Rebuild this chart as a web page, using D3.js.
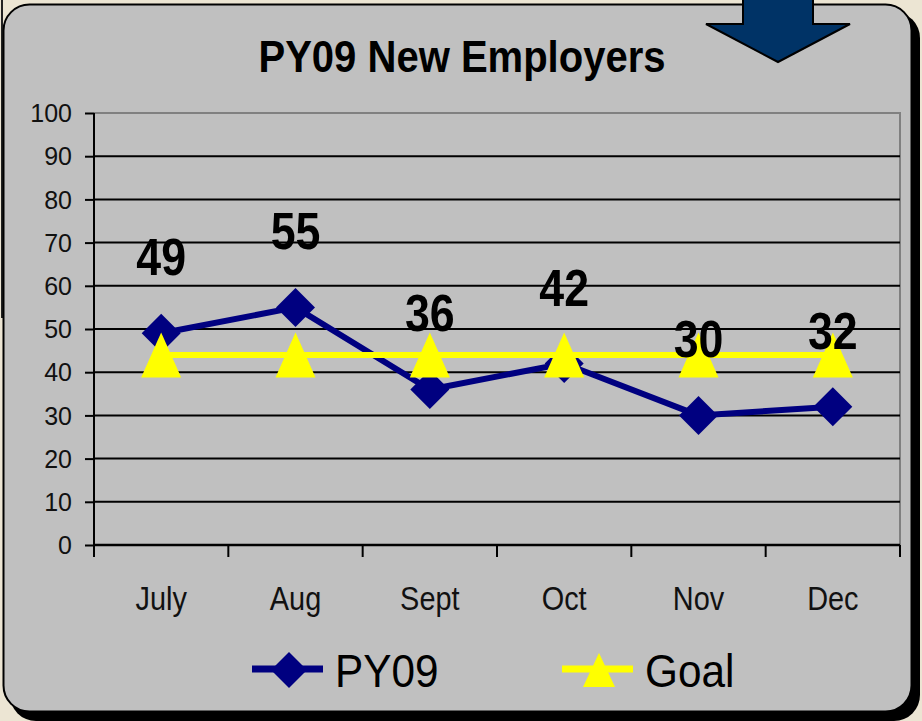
<!DOCTYPE html>
<html><head><meta charset="utf-8">
<script src="https://cdn.jsdelivr.net/npm/d3@7"></script>
<style>html,body{margin:0;padding:0;background:#ece5d3;}svg{display:block;}</style>
</head><body>
<script>
const categories = ["July","Aug","Sept","Oct","Nov","Dec"];
const py09 = [49,55,36,42,30,32];
const goal = [44,44,44,44,44,44];
const yTicks = [0,10,20,30,40,50,60,70,80,90,100];
const title = "PY09 New Employers";
const seriesNames = ["PY09","Goal"];

const W = 922, H = 721;
const svg = d3.select("body").append("svg").attr("width",W).attr("height",H);
const font = "'Liberation Sans', Arial, sans-serif";

// background
svg.append("rect").attr("width",W).attr("height",H).attr("fill","#ece5d3");
svg.append("line").attr("x1",2).attr("x2",2).attr("y1",0).attr("y2",318).attr("stroke","#222").attr("stroke-width",2);
// shadow + panel
svg.append("rect").attr("x",10).attr("y",12).attr("width",910).attr("height",709).attr("rx",26).attr("fill","#000");
svg.append("rect").attr("x",3.5).attr("y",4.5).attr("width",908).attr("height",707).attr("rx",26)
  .attr("fill","#c0c0c0").attr("stroke","#000").attr("stroke-width",2);

// arrow
svg.append("path")
  .attr("d","M743,-5 L813,-5 L813,24 L850,24 L778,62 L706,24 L743,24 Z")
  .attr("fill","#003366").attr("stroke","#000").attr("stroke-width",2).attr("stroke-linejoin","miter");

// title
svg.append("text").attr("transform","translate(462,72) scale(0.91,1)")
  .attr("text-anchor","middle").attr("font-family",font).attr("font-weight","bold")
  .attr("font-size",44).attr("fill","#000").text(title);

const x = d3.scaleBand().domain(categories).range([94,900]);
const y = d3.scaleLinear().domain([0,100]).range([545,113]);
const cx = c => x(c) + x.bandwidth()/2;

// plot border (gray top & right)
svg.append("path").attr("d",`M${x.range()[0]},${y(100)} H${x.range()[1]} V${y(0)}`)
  .attr("fill","none").attr("stroke","#808080").attr("stroke-width",2);

// gridlines
svg.append("g").selectAll("line").data(yTicks.filter(t=>t>0&&t<100)).join("line")
  .attr("x1",x.range()[0]).attr("x2",x.range()[1]).attr("y1",d=>y(d)).attr("y2",d=>y(d))
  .attr("stroke","#000").attr("stroke-width",2);

// y axis
const yAxis = svg.append("g").attr("transform",`translate(${x.range()[0]},0)`)
  .call(d3.axisLeft(y).tickValues(yTicks).tickSize(9).tickPadding(13).tickFormat(d3.format("d")));
yAxis.select(".domain").attr("d",`M0,${y(100)}V${y(0)+8}`).attr("stroke","#000").attr("stroke-width",2);
yAxis.selectAll(".tick line").attr("stroke","#000").attr("stroke-width",2);
yAxis.selectAll(".tick text").attr("font-family",font).attr("font-size",25).attr("fill","#111").attr("dy","0.35em");

// x axis line and boundary ticks
svg.append("line").attr("x1",x.range()[0]).attr("x2",x.range()[1]).attr("y1",y(0)).attr("y2",y(0))
  .attr("stroke","#000").attr("stroke-width",2.5);
const bounds = categories.map(c=>x(c)).concat([x.range()[1]]);
svg.append("g").selectAll("line").data(bounds).join("line")
  .attr("x1",d=>d).attr("x2",d=>d).attr("y1",y(0)).attr("y2",y(0)+12)
  .attr("stroke","#000").attr("stroke-width",2);
svg.append("g").selectAll("text").data(categories).join("text")
  .attr("transform",d=>`translate(${cx(d)},610) scale(0.85,1)`)
  .attr("text-anchor","middle").attr("font-family",font).attr("font-size",34).attr("fill","#111").text(d=>d);

// PY09 series
const line = d3.line().x((d,i)=>cx(categories[i])).y(d=>y(d));
svg.append("path").datum(py09).attr("d",line).attr("fill","none").attr("stroke","#000080").attr("stroke-width",6);
const diamond = (px,py,r)=>`M${px},${py-r} L${px+r},${py} L${px},${py+r} L${px-r},${py} Z`;
svg.append("g").selectAll("path").data(py09).join("path")
  .attr("d",(d,i)=>diamond(cx(categories[i]),y(d),19.5)).attr("fill","#000080");

// Goal series
svg.append("path").datum(goal).attr("d",line).attr("fill","none").attr("stroke","#ffff00").attr("stroke-width",6);
const tri = (px,py,w,h)=>`M${px},${py-h/2} L${px+w/2},${py+h/2} L${px-w/2},${py+h/2} Z`;
svg.append("g").selectAll("path").data(goal).join("path")
  .attr("d",(d,i)=>tri(cx(categories[i]),y(d),40,45)).attr("fill","#ffff00");

// data labels
svg.append("g").selectAll("text").data(py09).join("text")
  .attr("transform",(d,i)=>`translate(${cx(categories[i])},${y(d)-58}) scale(0.86,1)`)
  .attr("text-anchor","middle").attr("font-family",font).attr("font-weight","bold")
  .attr("font-size",52).attr("fill","#000").text(d=>d);

// legend
const lg = svg.append("g");
lg.append("line").attr("x1",252).attr("x2",323).attr("y1",669).attr("y2",669).attr("stroke","#000080").attr("stroke-width",7);
lg.append("path").attr("d",diamond(289,670,18)).attr("fill","#000080");
lg.append("text").attr("transform","translate(335,687) scale(0.9,1)").attr("font-family",font).attr("font-size",47).attr("fill","#000").text(seriesNames[0]);
lg.append("line").attr("x1",562).attr("x2",633).attr("y1",669).attr("y2",669).attr("stroke","#ffff00").attr("stroke-width",7);
lg.append("path").attr("d",tri(599,670,32,34)).attr("fill","#ffff00");
lg.append("text").attr("transform","translate(645,687) scale(0.9,1)").attr("font-family",font).attr("font-size",47).attr("fill","#000").text(seriesNames[1]);
</script>
</body></html>
